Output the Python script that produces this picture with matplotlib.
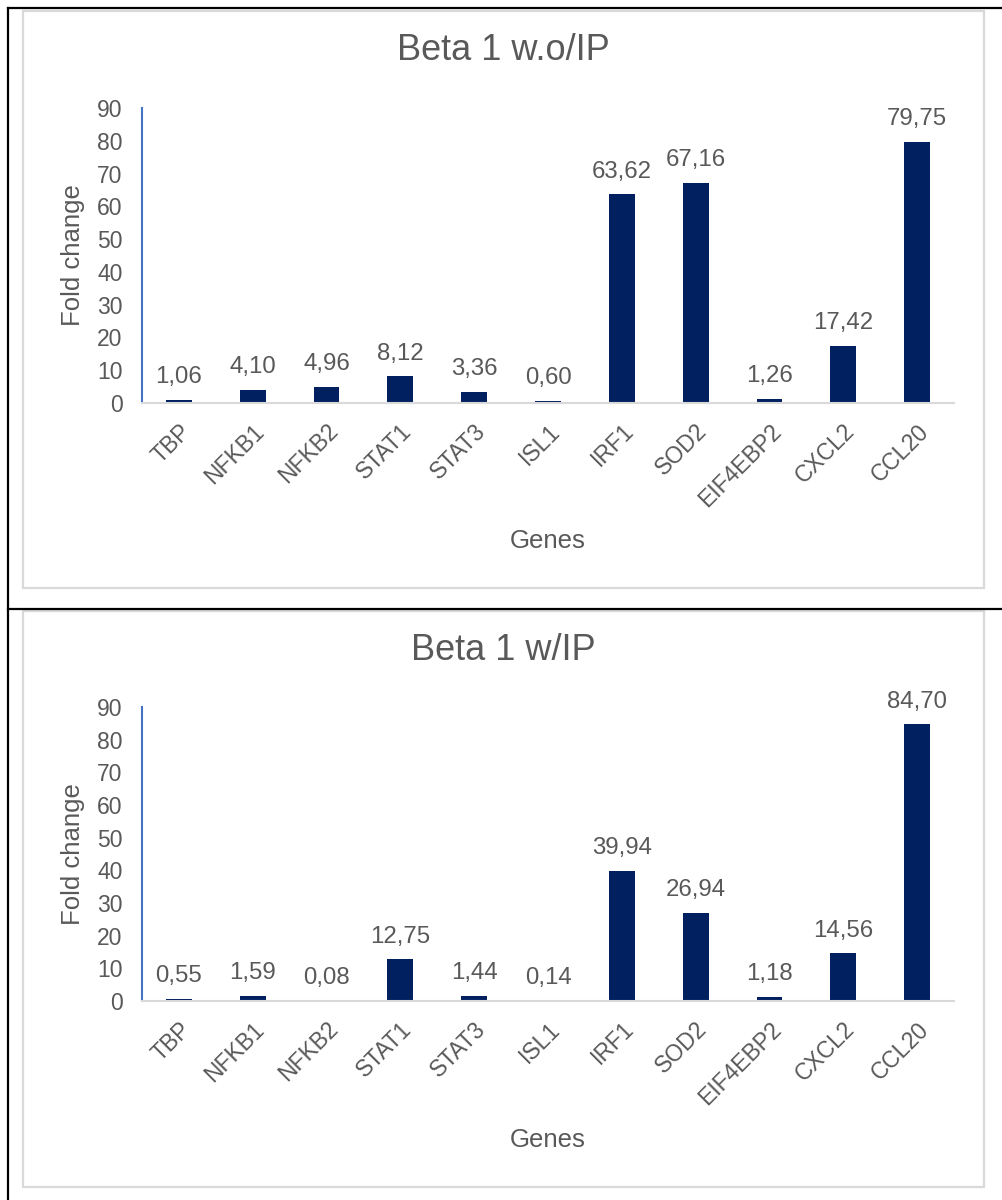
import matplotlib
matplotlib.use("Agg")
import matplotlib.pyplot as plt
from matplotlib.patches import Rectangle
from matplotlib.lines import Line2D

# data
genes = ["TBP", "NFKB1", "NFKB2", "STAT1", "STAT3", "ISL1",
         "IRF1", "SOD2", "EIF4EBP2", "CXCL2", "CCL20"]
fold_wo_ip = [1.06, 4.10, 4.96, 8.12, 3.36, 0.60, 63.62, 67.16, 1.26, 17.42, 79.75]
fold_w_ip = [0.55, 1.59, 0.08, 12.75, 1.44, 0.14, 39.94, 26.94, 1.18, 14.56, 84.70]
titles = ["Beta 1 w.o/IP", "Beta 1 w/IP"]
yticks = [0, 10, 20, 30, 40, 50, 60, 70, 80, 90]

W, H = 1002, 1200
TXT = "#595959"
BAR = "#002060"

plt.rcParams["font.family"] = ["Liberation Sans", "DejaVu Sans"]

fig = plt.figure(figsize=(W / 100, H / 100), dpi=100)


def fx(px):
    return px / W


def fy(py):
    return 1 - py / H


# table lines round the two charts
for seg in [((8, 8), (8, H)), ((8, W), (8, 8)), ((8, W), (609, 609))]:
    fig.add_artist(Line2D([fx(seg[0][0]), fx(seg[0][1])],
                          [fy(seg[1][0]), fy(seg[1][1])],
                          color="black", lw=1.6, transform=fig.transFigure))

# chart frames: (box top, box bottom, axis top, axis zero, title y, xlabel y)
panels = [
    (11, 588, 108, 403, 50, 541),
    (611, 1187, 707, 1001, 650, 1140),
]

for (btop, bbot, atop, azero, ty, gy), title, vals in zip(panels, titles, [fold_wo_ip, fold_w_ip]):
    fig.add_artist(Rectangle((fx(23), fy(bbot)), fx(984) - fx(23), fy(btop) - fy(bbot),
                             fill=False, ec="#D9D9D9", lw=1.6, transform=fig.transFigure))

    ax = fig.add_axes([fx(142), fy(azero), fx(954) - fx(142), fy(atop) - fy(azero)])
    x = range(len(genes))
    bars = ax.bar(x, vals, width=0.35, color=BAR)
    ax.set_xlim(-0.5, len(genes) - 0.5)
    ax.set_ylim(0, 90)
    ax.set_yticks(yticks)
    ax.set_xticks(list(x))
    ax.set_xticklabels(genes, rotation=45, ha="right", va="top",
                       rotation_mode="anchor")
    ax.tick_params(axis="both", length=0, colors=TXT, labelsize=16.5)
    ax.tick_params(axis="y", pad=14)
    ax.tick_params(axis="x", pad=12)

    for side in ["top", "right"]:
        ax.spines[side].set_visible(False)
    ax.spines["left"].set_color("#4472C4")
    ax.spines["left"].set_linewidth(1.5)
    ax.spines["bottom"].set_color("#D9D9D9")
    ax.spines["bottom"].set_linewidth(1.5)

    for b, v in zip(bars, vals):
        ax.annotate(f"{v:.2f}".replace(".", ","),
                    (b.get_x() + b.get_width() / 2, v),
                    xytext=(0, 8.5), textcoords="offset points",
                    ha="center", va="bottom", color=TXT, fontsize=17.3)

    ax.set_ylabel("Fold change", color=TXT, fontsize=18.5, va="center")
    ax.yaxis.set_label_coords((73 - 142) / 812, 0.5)
    ax.set_xlabel("Genes", color=TXT, fontsize=18.5, va="center")
    ax.xaxis.set_label_coords(0.5, (azero - gy) / (azero - atop))

    fig.text(fx(503), fy(ty), title, ha="center", va="center",
             color=TXT, fontsize=26)

fig.savefig("out.png", dpi=100)
